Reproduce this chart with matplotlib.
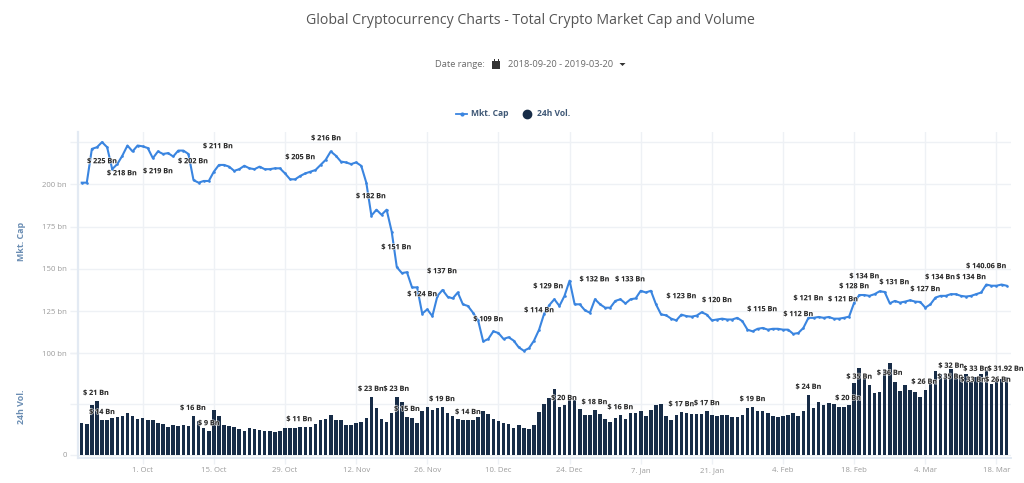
#!/usr/bin/env python3
# -*- coding: utf-8 -*-
"""Total crypto market cap (line) over 24h volume (bars), two stacked panels."""

import numpy as np
import pandas as pd
import matplotlib
matplotlib.use("Agg")
import matplotlib.pyplot as plt
import matplotlib.dates as mdates
import matplotlib.patheffects as pe
from matplotlib.lines import Line2D
from matplotlib.patches import Polygon, Rectangle

plt.rcParams["font.family"] = ["Open Sans", "DejaVu Sans"]

START = "2018-09-19"

# market cap, bn USD, one per day
mkt_cap = [
    201, 201, 221, 222, 225, 222, 209, 212, 217, 223,
    219.5, 223, 222.5, 221.5, 215.5, 219.5, 218, 218.5, 216.5, 220,
    220, 218, 202.5, 201, 202, 202, 207.5, 211.5, 211.5, 210.5,
    208, 209, 211, 209.5, 209, 210.5, 209, 209, 209.5, 209.5,
    206.5, 203, 203, 205, 206.5, 207.5, 208.5, 211.5, 214.5, 219.5,
    217, 213.5, 213, 212, 213, 211, 201, 181.5, 185, 182,
    185, 172, 151, 147.5, 148, 139, 139, 123.5, 126, 122,
    134, 137.5, 133.5, 132.5, 136, 129, 128, 124, 119.5, 107,
    108.5, 113, 112, 108.5, 109.5, 107.5, 103.5, 101.5, 103, 107.5,
    114, 123.5, 128.5, 132, 128, 134, 143, 129, 129, 125.5,
    124, 132, 129, 127, 127, 131, 132, 129.5, 132, 132.5,
    137, 136, 137, 129, 123, 122.5, 120.5, 119.5, 122.9, 122,
    121.7, 122.3, 124.3, 122.9, 119.5, 120, 120.5, 120, 120, 121,
    119, 114, 113, 114.5, 115, 114, 114.5, 114.5, 114, 114,
    111.5, 112, 115, 121, 121, 121.5, 121, 121.5, 120.5, 120.5,
    121, 121.7, 130, 134.5, 134.5, 134, 135, 136.7, 136.3, 129.6,
    131, 130, 130.6, 131.4, 130.6, 130.4, 127, 129, 133, 134,
    134, 135, 135, 134, 133.6, 134, 135, 136, 140.7, 140,
    140, 140.7, 140,
]

# 24h volume, bn USD, one per day
volume = [
    12.7, 12, 19.6, 21.2, 13.9, 13.6, 14.4, 15, 15.4, 16.7,
    15.4, 14.3, 14.7, 13.6, 13.6, 12.5, 12, 11.1, 11.8, 11.4,
    11.7, 11.4, 15.4, 13.4, 10.5, 9.3, 17.6, 15.4, 11.9, 11.4,
    11.1, 10.3, 9.5, 10.6, 10.3, 9.8, 9.4, 9.3, 9, 9.4,
    10.5, 10.7, 10.6, 11.1, 11.1, 11.1, 12.2, 13.6, 14.3, 15.9,
    13.9, 13.6, 11.9, 11.7, 12.7, 13.1, 14.7, 22.9, 18.4, 14.2,
    13.1, 16.4, 22.9, 20.9, 15, 14.7, 12.5, 17.2, 18.9, 17.6,
    18.4, 18.9, 16.7, 15.5, 14.3, 13.6, 13.8, 13.6, 15, 17.5,
    16.2, 14.2, 13.4, 12.7, 12.3, 10.7, 11.7, 10.5, 10.2, 11.8,
    17, 20, 22.3, 26, 18.7, 19.6, 21.7, 21.7, 18.1, 15.9,
    15.9, 17.7, 16.2, 14.2, 13.1, 14.7, 15.9, 14.2, 16.7, 16.6,
    17.4, 15.5, 17.7, 19.6, 19.9, 15.5, 13.6, 15.9, 17, 16.7,
    16.1, 16.1, 16.1, 17.2, 15.6, 15.5, 15.6, 15.6, 14.9, 14.9,
    15.6, 18.4, 18.9, 17.2, 17.5, 16.7, 15.2, 14.9, 15.5, 15.9,
    16.4, 15.2, 17.5, 23.5, 18.4, 20.7, 19.5, 20.4, 19.9, 19,
    18.9, 19.5, 28.5, 34.4, 30.4, 27.7, 24.3, 24.7, 33.7, 36,
    28.9, 25.2, 27.7, 25.5, 24.7, 22.7, 25.7, 28.1, 33, 32,
    31.7, 34, 32, 30.8, 32, 28.7, 30.7, 32, 33.3, 27.9,
    30, 30, 30.8,
]

# callouts: text, day offset from START, height on the panel scale
cap_label_text = [
    "$ 225 Bn", "$ 218 Bn", "$ 219 Bn", "$ 202 Bn", "$ 211 Bn", "$ 205 Bn", "$ 216 Bn",
    "$ 182 Bn", "$ 151 Bn", "$ 137 Bn", "$ 124 Bn", "$ 109 Bn", "$ 114 Bn", "$ 129 Bn",
    "$ 132 Bn", "$ 133 Bn", "$ 123 Bn", "$ 120 Bn", "$ 115 Bn", "$ 112 Bn", "$ 121 Bn",
    "$ 121 Bn", "$ 128 Bn", "$ 134 Bn", "$ 131 Bn", "$ 127 Bn", "$ 134 Bn", "$ 134 Bn",
    "$ 140.06 Bn",
]
cap_label_day = [
    4, 7.9, 15, 21.9, 26.8, 43, 48.1, 56.9, 61.9, 70.9, 67, 80, 90, 91.8, 100.9,
    107.9, 118, 125, 133.9, 141, 143, 149.8, 152, 154, 159.9, 166, 168.9, 175, 178,
]
cap_label_y = [
    213.4, 206.3, 207.5, 213.4, 222.3, 215.8, 227, 192.7, 162.5, 148.3, 134.7, 119.9,
    125.2, 139.4, 143.5, 143.5, 133.5, 131.2, 125.8, 122.9, 132.3, 131.7, 139.4, 145.3,
    141.8, 137.7, 144.8, 144.8, 151.3,
]

vol_label_text = [
    "$ 21 Bn", "$ 14 Bn", "$ 16 Bn", "$ 9 Bn", "$ 11 Bn", "$ 23 Bn", "$ 23 Bn", "$ 15 Bn",
    "$ 19 Bn", "$ 14 Bn", "$ 20 Bn", "$ 18 Bn", "$ 16 Bn", "$ 17 Bn", "$ 17 Bn", "$ 19 Bn",
    "$ 24 Bn", "$ 20 Bn", "$ 35 Bn", "$ 36 Bn", "$ 26 Bn", "$ 35 Bn", "$ 32 Bn", "$ 33 Bn",
    "$ 26 Bn", "$ 33 Bn", "$ 31.92 Bn",
]
vol_label_day = [
    2.8, 4, 21.9, 25, 42.8, 56.9, 61.9, 64, 70.9, 76, 94.9, 100.9, 106, 118, 123, 132,
    143, 150.8, 153, 159, 165.8, 170.9, 171.1, 175.4, 180.3, 176, 181.8,
]
vol_label_y = [
    24.2, 16.7, 18.3, 12.3, 13.9, 25.8, 25.8, 17.9, 21.8, 16.7, 22.2, 20.6, 18.6, 19.8, 20.2,
    21.8, 26.6, 22.2, 30.6, 32.1, 28.6, 30.6, 34.9, 29.4, 29.4, 33.7, 33.7,
]

x_tick_dates = [
    "2018-10-01", "2018-10-15", "2018-10-29", "2018-11-12", "2018-11-26", "2018-12-10",
    "2018-12-24", "2019-01-07", "2019-01-21", "2019-02-04", "2019-02-18", "2019-03-04",
    "2019-03-18",
]
x_tick_labels = [
    "1. Oct", "15. Oct", "29. Oct", "12. Nov", "26. Nov", "10. Dec", "24. Dec",
    "7. Jan", "21. Jan", "4. Feb", "18. Feb", "4. Mar", "18. Mar",
]
cap_ticks = [100, 125, 150, 175, 200, 225]
cap_tick_labels = ["100 bn", "125 bn", "150 bn", "175 bn", "200 bn", ""]
vol_ticks = [0, 20, 40]
vol_tick_labels = ["0", "", ""]

W, H = 1024, 483
LINE_BLUE = "#3a85e0"
BAR_NAVY = "#172c47"
GRID = "#eef1f5"
AXIS = "#e3eaf3"
TICK_TXT = "#9c9c9c"
AXIS_TXT = "#6a8db3"


def px_box(left, top, right, bottom):
    return [left / W, 1 - bottom / H, (right - left) / W, (bottom - top) / H]


def put_labels(ax, texts, days, ys, start):
    for txt, day, y in zip(texts, days, ys):
        ax.text(start + day, y, txt, fontsize=5.2, fontweight="bold", color="#2b2b2b",
                ha="center", va="center", zorder=6, clip_on=False,
                path_effects=[pe.withStroke(linewidth=1.0, foreground="#ffffffb0")])


def style_axis(ax, ticks, labels):
    ax.set_yticks(ticks)
    ax.set_yticklabels(labels)
    ax.grid(True, color=GRID, linewidth=1.0)
    ax.set_axisbelow(True)
    ax.tick_params(axis="y", length=5.5, width=1.0, color=GRID, labelcolor=TICK_TXT,
                   labelsize=5.6, pad=2.5)
    for name in ("top", "right", "bottom"):
        ax.spines[name].set_visible(False)
    ax.spines["left"].set_color(AXIS)
    ax.spines["left"].set_linewidth(1.6)
    ax.patch.set_alpha(0)


def main():
    days = pd.date_range(START, periods=len(mkt_cap))
    x = mdates.date2num(days)
    x0 = x[0]
    xlim = (x0 - 0.73, x0 + 182.8)

    fig = plt.figure(figsize=(W / 100, H / 100), dpi=100, facecolor="white")
    ax_cap = fig.add_axes(px_box(78, 132, 1010.7, 353.3))
    ax_vol = fig.add_axes(px_box(78, 353.3, 1010.7, 458), sharex=ax_cap)

    ax_cap.plot(x, mkt_cap, color=LINE_BLUE, linewidth=1.5, marker="o", markersize=1.9,
                markeredgewidth=0, zorder=3, solid_joinstyle="round")
    ax_vol.bar(x, volume, width=0.7, color=BAR_NAVY, edgecolor="none", zorder=3)

    ax_cap.set_ylim(100, 231)
    ax_vol.set_ylim(-1.18, 40)
    ax_cap.set_xlim(*xlim)

    style_axis(ax_cap, cap_ticks, cap_tick_labels)
    style_axis(ax_vol, vol_ticks, vol_tick_labels)

    ticks = mdates.date2num(pd.to_datetime(x_tick_dates))
    ax_vol.set_xticks(ticks)
    ax_vol.set_xticklabels(x_tick_labels)
    ax_vol.spines["bottom"].set_visible(True)
    ax_vol.spines["bottom"].set_color(AXIS)
    ax_vol.spines["bottom"].set_linewidth(1.4)
    ax_vol.tick_params(axis="x", length=4, width=1.0, color=GRID, labelcolor=TICK_TXT,
                       labelsize=5.6, pad=2.5)
    ax_cap.tick_params(axis="x", length=0, labelbottom=False)

    put_labels(ax_cap, cap_label_text, cap_label_day, cap_label_y, x0)
    put_labels(ax_vol, vol_label_text, vol_label_day, vol_label_y, x0)

    # page furniture around the chart
    fig.text(530 / W, 1 - 21 / H, "Global Cryptocurrency Charts - Total Crypto Market Cap and Volume",
             fontsize=10.17, color="#555555", ha="center", va="center")
    fig.text(435 / W, 1 - 64.5 / H, "Date range:", fontsize=6.7, color="#6a6a6a", va="center")
    fig.text(508 / W, 1 - 64.5 / H, "2018-09-20 - 2019-03-20", fontsize=6.7, color="#6a6a6a", va="center")
    fig.add_artist(Rectangle((492 / W, 1 - 69 / H), 8 / W, 8 / H, transform=fig.transFigure,
                             facecolor="#333333", edgecolor="none"))
    fig.add_artist(Rectangle((493.5 / W, 1 - 61 / H), 1 / W, 2 / H, transform=fig.transFigure,
                             facecolor="#333333", edgecolor="none"))
    fig.add_artist(Rectangle((497.5 / W, 1 - 61 / H), 1 / W, 2 / H, transform=fig.transFigure,
                             facecolor="#333333", edgecolor="none"))
    fig.add_artist(Polygon([(619.5 / W, 1 - 63 / H), (625.5 / W, 1 - 63 / H), (622.5 / W, 1 - 66 / H)],
                           transform=fig.transFigure, facecolor="#333333", edgecolor="none"))

    fig.text(22 / W, 1 - 241 / H, "Mkt. Cap", rotation=90, fontsize=6.4, fontweight="bold",
             color=AXIS_TXT, ha="center", va="center")
    fig.text(22 / W, 1 - 407 / H, "24h Vol.", rotation=90, fontsize=6.4, fontweight="bold",
             color=AXIS_TXT, ha="center", va="center")

    handles = [
        Line2D([], [], color=LINE_BLUE, linewidth=1.3, marker="o", markersize=2),
        Line2D([], [], color=BAR_NAVY, linestyle="none", marker="o", markersize=6),
    ]
    leg = fig.legend(handles, ["Mkt. Cap", "24h Vol."], ncol=2, frameon=False,
                     loc="center", bbox_to_anchor=(513 / W, 1 - 114 / H), fontsize=6.1,
                     handlelength=1.3, handletextpad=0.45, columnspacing=1.6)
    for txt in leg.get_texts():
        txt.set_color("#3f5876")
        txt.set_fontweight("bold")

    fig.savefig("out.png", dpi=100, facecolor="white")


if __name__ == "__main__":
    main()
